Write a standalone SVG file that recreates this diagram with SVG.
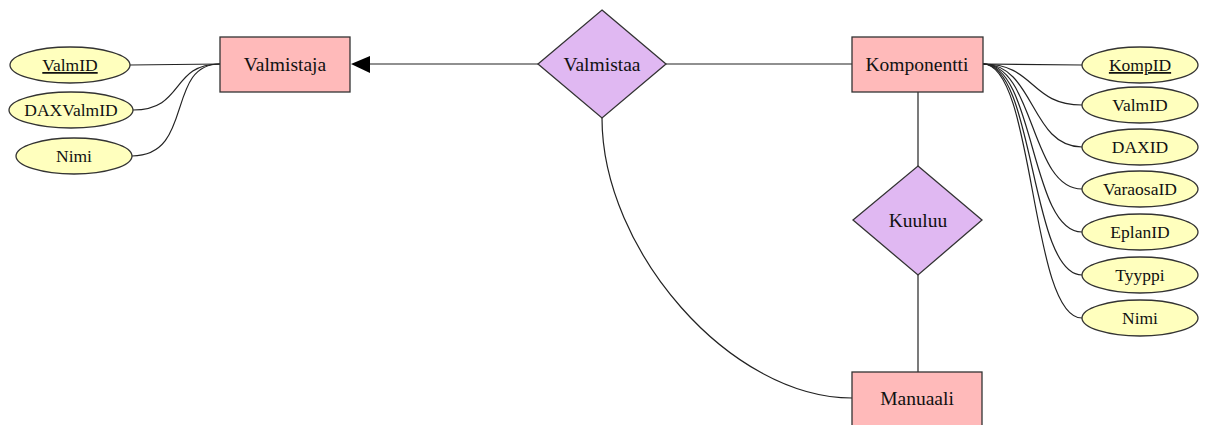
<svg xmlns="http://www.w3.org/2000/svg" width="1211" height="425" viewBox="0 0 1211 425">
<style>
.ent{fill:#ffbaba;stroke:#333;stroke-width:1.3}
.rel{fill:#e0b8f2;stroke:#333;stroke-width:1.3}
.att{fill:#ffffbe;stroke:#333;stroke-width:1.3}
.ln{fill:none;stroke:#222;stroke-width:1.2}
text{font-family:"Liberation Serif","Times New Roman",serif;fill:#111;text-anchor:middle}
.lt{font-size:19.5px}
.at{font-size:17.5px}
.key{text-decoration:underline}
</style>
<rect width="1211" height="425" fill="#fff"/>
<g id="connectors">
<path class="ln" d="M130,65 L220,64"/>
<path class="ln" d="M133,110 C185,110 170,64 220,64"/>
<path class="ln" d="M132,156 C195,156 165,64 220,64"/>
<path class="ln" d="M370,64 L538,64"/>
<polygon points="351,64 370,56 370,73" fill="#000"/>
<path class="ln" d="M666,64 L852,64"/>
<path class="ln" d="M602,118 C602,250 730,398 852,398"/>
<path class="ln" d="M918,92 L918,166"/>
<path class="ln" d="M918,275 L918,372"/>
<path class="ln" d="M983,64 L1082,65"/>
<path class="ln" d="M983,64 C1035,64 1030,105 1082,105"/>
<path class="ln" d="M983,64 C1035,64 1030,147 1082,147"/>
<path class="ln" d="M983,64 C1035,64 1030,189 1082,189"/>
<path class="ln" d="M983,64 C1035,64 1030,232 1082,232"/>
<path class="ln" d="M983,64 C1035,64 1030,275 1082,275"/>
<path class="ln" d="M983,64 C1035,64 1030,318 1082,318"/>
</g>
<g id="Valmistaja"><rect class="ent" x="220" y="37" width="130" height="55"/><text class="lt" x="285" y="71">Valmistaja</text></g>
<g id="Valmistaa"><polygon class="rel" points="602,10 666,64 602,118 538,64"/><text class="lt" x="602" y="71">Valmistaa</text></g>
<g id="Komponentti"><rect class="ent" x="852" y="37" width="131" height="55"/><text class="lt" x="917" y="71">Komponentti</text></g>
<g id="Kuuluu"><polygon class="rel" points="918,166 982,220 918,275 853,220"/><text class="lt" x="918" y="227">Kuuluu</text></g>
<g id="Manuaali"><rect class="ent" x="852" y="372" width="130" height="56"/><text class="lt" x="917" y="405">Manuaali</text></g>
<g id="attr-ValmID-1"><ellipse class="att" cx="70" cy="65" rx="60" ry="18"/><text class="at key" x="70" y="71">ValmID</text></g>
<g id="attr-DAXValmID"><ellipse class="att" cx="71" cy="110" rx="62" ry="18"/><text class="at" x="71" y="116">DAXValmID</text></g>
<g id="attr-Nimi-1"><ellipse class="att" cx="74" cy="156" rx="58" ry="18"/><text class="at" x="74" y="162">Nimi</text></g>
<g id="attr-KompID"><ellipse class="att" cx="1140" cy="65" rx="58" ry="18"/><text class="at key" x="1140" y="71">KompID</text></g>
<g id="attr-ValmID-2"><ellipse class="att" cx="1140" cy="105" rx="58" ry="18"/><text class="at" x="1140" y="111">ValmID</text></g>
<g id="attr-DAXID"><ellipse class="att" cx="1140" cy="147" rx="58" ry="18"/><text class="at" x="1140" y="153">DAXID</text></g>
<g id="attr-VaraosaID"><ellipse class="att" cx="1140" cy="189" rx="58" ry="18"/><text class="at" x="1140" y="195">VaraosaID</text></g>
<g id="attr-EplanID"><ellipse class="att" cx="1140" cy="232" rx="58" ry="18"/><text class="at" x="1140" y="238">EplanID</text></g>
<g id="attr-Tyyppi"><ellipse class="att" cx="1140" cy="275" rx="58" ry="18"/><text class="at" x="1140" y="281">Tyyppi</text></g>
<g id="attr-Nimi-2"><ellipse class="att" cx="1140" cy="318" rx="58" ry="18"/><text class="at" x="1140" y="324">Nimi</text></g>
</svg>
